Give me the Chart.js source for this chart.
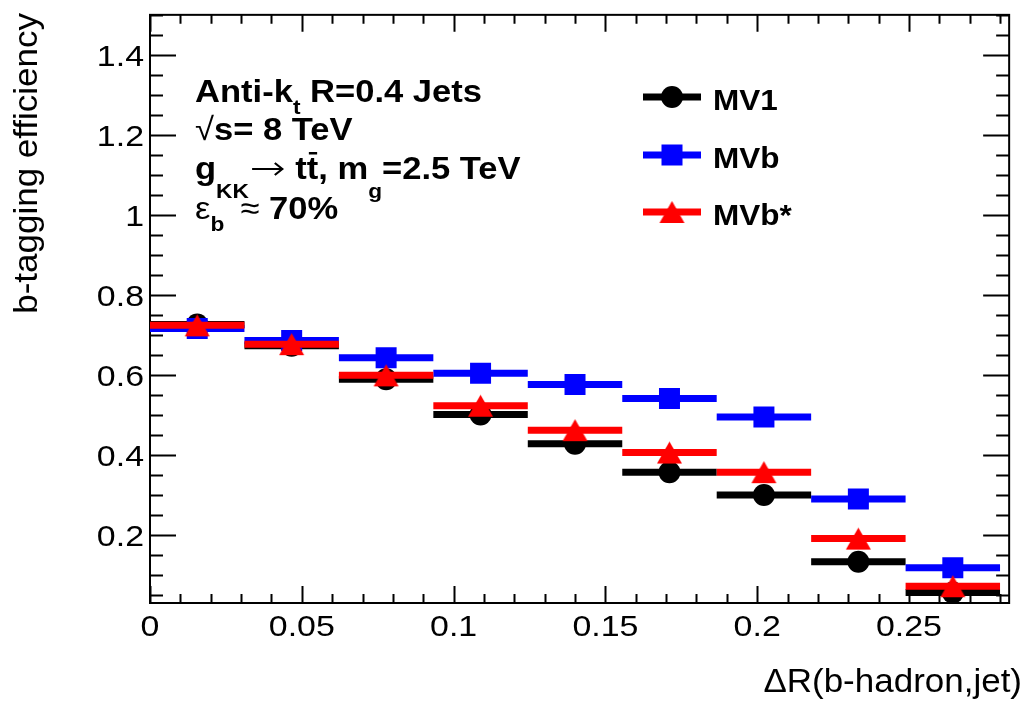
<!DOCTYPE html>
<html>
<head>
<meta charset="utf-8">
<script src="https://cdn.jsdelivr.net/npm/chart.js@4.4.1/dist/chart.umd.min.js"></script>
<style>
  html, body { margin: 0; padding: 0; background: #ffffff; overflow: hidden; }
  canvas { display: block; }
</style>
</head>
<body>
<canvas id="eff" width="1024" height="703" style="width:1024px;height:703px"></canvas>
<script>
// ΔR(b-hadron, jet) bin edges (9 equal bins up to 0.28)
const binEdges = [0, 0.03111, 0.06222, 0.09333, 0.12444, 0.15556, 0.18667, 0.21778, 0.24889, 0.28];

// b-tagging efficiency per bin for each tagger
const mv1     = [0.726, 0.673, 0.589, 0.501, 0.428, 0.357, 0.300, 0.133, 0.056];
const mvb     = [0.716, 0.686, 0.643, 0.604, 0.576, 0.541, 0.495, 0.290, 0.118];
const mvbStar = [0.724, 0.677, 0.599, 0.523, 0.462, 0.406, 0.357, 0.191, 0.072];

const seriesNames = ['MV1', 'MVb', 'MVb*'];

// axis ticks
const xTickValues = [0, 0.05, 0.1, 0.15, 0.2, 0.25];
const xTickLabels = ['0', '0.05', '0.1', '0.15', '0.2', '0.25'];
const yTickValues = [0.2, 0.4, 0.6, 0.8, 1.0, 1.2, 1.4];
const yTickLabels = ['0.2', '0.4', '0.6', '0.8', '1', '1.2', '1.4'];

const FONT = '"Liberation Sans", Arial, Helvetica, sans-serif';

// horizontal bin-width bars: one segment per bin, broken by gaps
function binSegments(vals) {
  const pts = [];
  vals.forEach((v, i) => {
    pts.push({ x: binEdges[i], y: v });
    pts.push({ x: binEdges[i + 1], y: v });
    pts.push({ x: binEdges[i + 1], y: null });
  });
  return pts;
}
function binCentres(vals) {
  return vals.map((v, i) => ({ x: (binEdges[i] + binEdges[i + 1]) / 2, y: v }));
}

// upward triangle marker, centred on its bounding box
function makeTriangle(color) {
  const w = 25, h = 22;
  const c = document.createElement('canvas');
  c.width = w + 2; c.height = h + 2;
  const g = c.getContext('2d');
  g.fillStyle = color;
  g.beginPath();
  g.moveTo(1 + w / 2, 1);
  g.lineTo(1 + w, 1 + h);
  g.lineTo(1, 1 + h);
  g.closePath();
  g.fill();
  return c;
}
const triRed = makeTriangle('#ff0000');

const styles = [
  { color: '#000000', point: 'circle', radius: 11 },
  { color: '#0000ff', point: 'rect', radius: 14.85 },
  { color: '#ff0000', point: triRed, radius: 12 }
];
const seriesValues = [mv1, mvb, mvbStar];

const datasets = [];
seriesValues.forEach((vals, k) => {
  const st = styles[k];
  datasets.push({
    label: seriesNames[k] + ' bins',
    data: binSegments(vals),
    borderColor: st.color,
    borderWidth: 7,
    borderCapStyle: 'butt',
    pointRadius: 0,
    pointHoverRadius: 0,
    spanGaps: false,
    tension: 0,
    fill: false,
    order: 6 - 2 * k
  });
  datasets.push({
    label: seriesNames[k],
    data: binCentres(vals),
    showLine: false,
    pointStyle: st.point,
    pointRadius: st.radius,
    pointHoverRadius: st.radius,
    pointBackgroundColor: st.color,
    pointBorderColor: st.color,
    pointBorderWidth: 0,
    order: 5 - 2 * k
  });
});

// text drawn with a slight horizontal stretch
function stretchedText(ctx, text, x, y, font, align, sx) {
  ctx.save();
  ctx.translate(x, y);
  ctx.scale(sx, 1);
  ctx.font = font;
  ctx.fillStyle = '#000';
  ctx.textAlign = align;
  ctx.textBaseline = 'alphabetic';
  ctx.fillText(text, 0, 0);
  ctx.restore();
}

// frame with inward ticks on all four sides, plus tick labels
const framePlugin = {
  id: 'frame',
  beforeDatasetsDraw(chart) {
    const { ctx, chartArea: a, scales: { x, y } } = chart;
    ctx.save();
    ctx.strokeStyle = '#000';
    ctx.lineWidth = 2;
    ctx.strokeRect(a.left, a.top, a.right - a.left, a.bottom - a.top);
    ctx.beginPath();
    for (let i = 0; i <= 28; i++) {
      const v = i * 0.01;
      const px = Math.round(x.getPixelForValue(v)) + 0.5;
      const len = (i % 5 === 0) ? 17 : 9;
      ctx.moveTo(px, a.bottom); ctx.lineTo(px, a.bottom - len);
      ctx.moveTo(px, a.top); ctx.lineTo(px, a.top + len);
    }
    for (let i = 1; i <= 30; i++) {
      const v = i * 0.05;
      if (v < y.min || v > y.max) continue;
      const py = Math.round(y.getPixelForValue(v)) + 0.5;
      const len = (i % 4 === 0) ? 26 : 13;
      ctx.moveTo(a.left, py); ctx.lineTo(a.left + len, py);
      ctx.moveTo(a.right, py); ctx.lineTo(a.right - len, py);
    }
    ctx.stroke();
    ctx.restore();

    const tf = '30px ' + FONT;
    xTickValues.forEach((v, i) => {
      stretchedText(ctx, xTickLabels[i], x.getPixelForValue(v), a.bottom + 33, tf, 'center', 1.13);
    });
    yTickValues.forEach((v, i) => {
      stretchedText(ctx, yTickLabels[i], a.left - 6, y.getPixelForValue(v) + 11, tf, 'right', 1.13);
    });
  }
};

// rich text: segments with optional bold / subscript / overline / arrow
function drawRich(ctx, x, y, segs, sx) {
  ctx.save();
  ctx.translate(x, y);
  ctx.scale(sx, 1);
  ctx.fillStyle = '#000';
  ctx.strokeStyle = '#000';
  ctx.textBaseline = 'alphabetic';
  ctx.textAlign = 'left';
  let cx = 0;
  for (const s of segs) {
    if (s.arrow) {
      const w = s.arrow;
      ctx.lineWidth = 2;
      ctx.beginPath();
      ctx.moveTo(cx + 3, -10); ctx.lineTo(cx + w - 3, -10);
      ctx.moveTo(cx + w - 10, -16); ctx.lineTo(cx + w - 3, -10); ctx.lineTo(cx + w - 10, -4);
      ctx.stroke();
      cx += w;
      continue;
    }
    ctx.font = (s.b ? 'bold ' : '') + s.size + 'px ' + FONT;
    ctx.fillText(s.t, cx, s.dy || 0);
    const w = ctx.measureText(s.t).width;
    if (s.bar) {
      ctx.fillRect(cx + 2, -27, w - 3, 2.5);
    }
    cx += w + (s.gap || 0);
  }
  ctx.restore();
}

const labelsPlugin = {
  id: 'labels',
  afterDraw(chart) {
    const ctx = chart.ctx;
    const B = 32, S = 21, SX = 1.08;
    drawRich(ctx, 195, 102, [
      { t: 'Anti-k', b: true, size: B },
      { t: 't', b: true, size: S, dy: 12 },
      { t: ' R=0.4 Jets', b: true, size: B }
    ], SX);
    drawRich(ctx, 195, 140, [
      { t: '\u221A', b: false, size: B },
      { t: 's= 8 TeV', b: true, size: B }
    ], SX);
    drawRich(ctx, 195, 179, [
      { t: 'g', b: true, size: B },
      { t: 'KK', b: true, size: S, dy: 19 },
      { arrow: 34 },
      { t: ' t', b: true, size: B },
      { t: 't', b: true, size: B, bar: true },
      { t: ', m', b: true, size: B },
      { t: 'g', b: true, size: S, dy: 19 },
      { t: '=2.5 TeV', b: true, size: B }
    ], SX);
    drawRich(ctx, 195, 219, [
      { t: '\u03B5', b: false, size: B },
      { t: 'b', b: true, size: S, dy: 12, gap: 15 },
      { t: '\u2248 ', b: false, size: B },
      { t: '70%', b: true, size: B }
    ], SX);

    // legend
    const legY = [97, 155, 212];
    seriesNames.forEach((name, k) => {
      const st = styles[k];
      const yy = legY[k];
      ctx.save();
      ctx.strokeStyle = st.color;
      ctx.lineWidth = 7;
      ctx.lineCap = 'butt';
      ctx.beginPath();
      ctx.moveTo(643, yy); ctx.lineTo(701, yy);
      ctx.stroke();
      ctx.fillStyle = st.color;
      if (st.point === 'circle') {
        ctx.beginPath(); ctx.arc(672, yy, 11, 0, Math.PI * 2); ctx.fill();
      } else if (st.point === 'rect') {
        ctx.fillRect(672 - 10.5, yy - 10.5, 21, 21);
      } else {
        ctx.drawImage(st.point, 672 - st.point.width / 2, yy - st.point.height / 2);
      }
      ctx.restore();
      drawRich(ctx, 713, yy + 13, [{ t: name, b: true, size: 30 }], 1.05);
    });

    // axis titles
    stretchedText(ctx, '\u0394R(b-hadron,jet)', 1022, 692, '33px ' + FONT, 'right', 1.06);
    ctx.save();
    ctx.translate(37, 13);
    ctx.rotate(-Math.PI / 2);
    stretchedText(ctx, 'b-tagging efficiency', 0, 0, '33px ' + FONT, 'right', 1.06);
    ctx.restore();
  }
};

new Chart(document.getElementById('eff'), {
  type: 'line',
  data: { datasets },
  options: {
    responsive: false,
    devicePixelRatio: 1,
    animation: false,
    events: [],
    layout: { padding: { top: 13, right: 2, left: 0, bottom: 0 } },
    plugins: { legend: { display: false }, tooltip: { enabled: false } },
    scales: {
      x: {
        type: 'linear',
        min: 0,
        max: 0.283,
        grid: { display: false, drawTicks: false },
        border: { display: false },
        afterBuildTicks: (s) => { s.ticks = xTickValues.map(v => ({ value: v })); },
        afterFit: (s) => { s.height = 100; s.paddingLeft = 0; s.paddingRight = 0; },
        ticks: { display: false, callback: (v, i) => xTickLabels[i] }
      },
      y: {
        type: 'linear',
        min: 0.03,
        max: 1.5,
        grid: { display: false, drawTicks: false },
        border: { display: false },
        afterBuildTicks: (s) => { s.ticks = yTickValues.map(v => ({ value: v })); },
        afterFit: (s) => { s.width = 150; s.paddingTop = 0; s.paddingBottom = 0; },
        ticks: { display: false, callback: (v, i) => yTickLabels[i] }
      }
    }
  },
  plugins: [framePlugin, labelsPlugin]
});
</script>
</body>
</html>
